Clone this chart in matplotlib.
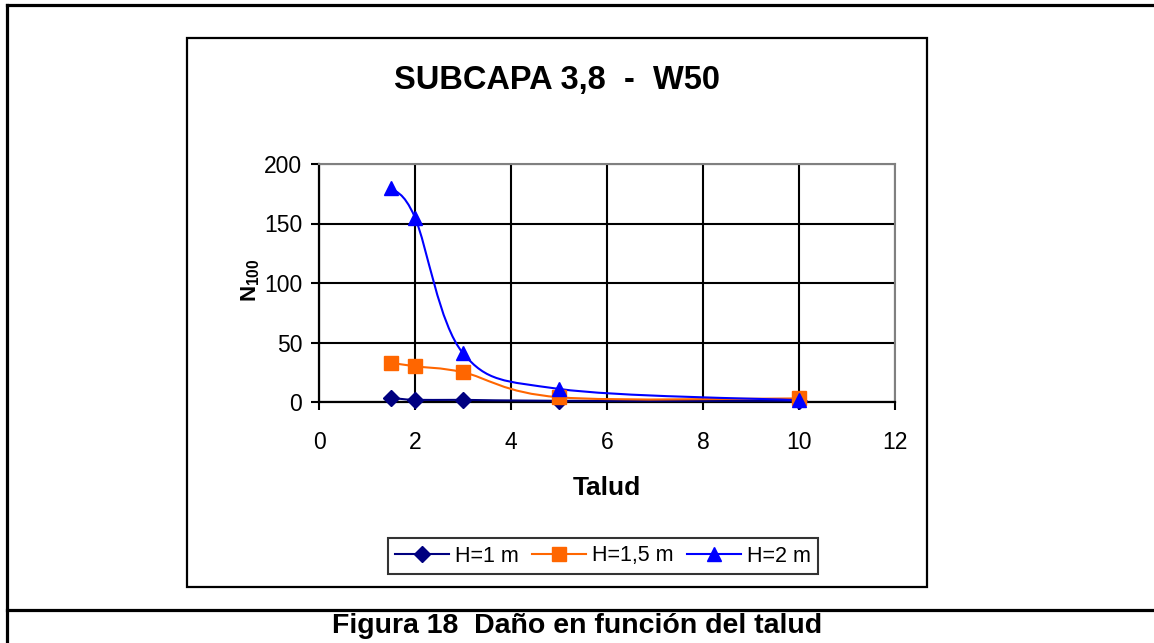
import numpy as np
import matplotlib
matplotlib.use("Agg")
import matplotlib.pyplot as plt
from matplotlib.path import Path
from matplotlib.patches import PathPatch, Rectangle
from matplotlib.lines import Line2D

plt.rcParams['font.family'] = ['Liberation Sans', 'DejaVu Sans']
plt.rcParams['mathtext.fontset'] = 'custom'
plt.rcParams['mathtext.rm'] = 'Liberation Sans'
plt.rcParams['mathtext.bf'] = 'Liberation Sans:bold'

# data
talud = [1.5, 2, 3, 5, 10]
h1 = [3.5, 1.8, 1.8, 1.0, 1.0]
h15 = [33, 30, 25, 4, 3]
h2 = [180, 155, 41, 11, 1.5]
labels = ["H=1 m", "H=1,5 m", "H=2 m"]
colors = ["#000080", "#FF6600", "#0000FF"]
markers = ["D", "s", "^"]
msizes = [8, 9.5, 10.5]

W, H = 1154, 643
fig = plt.figure(figsize=(W / 100, H / 100), dpi=100)


def fx(px):
    return px / W


def fy(py):
    return 1 - py / H


# page frame + chart frame
for xs, ys in [([7, W], [5, 5]), ([7, 7], [5, H]), ([7, W], [610, 610])]:
    fig.add_artist(Line2D([fx(v) for v in xs], [fy(v) for v in ys], color="black", lw=2.3,
                          transform=fig.transFigure))
fig.add_artist(Rectangle((fx(187), fy(587)), fx(927) - fx(187), fy(38) - fy(587),
                         fill=False, ec="black", lw=1.6, transform=fig.transFigure))

ax = fig.add_axes([fx(319), fy(402), fx(895) - fx(319), fy(164) - fy(402)])


def excel_smooth(x, y):
    # Excel-style smoothed line (Catmull-Rom as cubic Bezier)
    p = np.column_stack([x, y]).astype(float)
    n = len(p)
    verts = [p[0]]
    codes = [Path.MOVETO]
    for i in range(n - 1):
        p0 = p[i - 1] if i > 0 else p[i]
        p3 = p[i + 2] if i + 2 < n else p[i + 1]
        c1 = p[i] + (p[i + 1] - p0) / 6
        c2 = p[i + 1] - (p3 - p[i]) / 6
        verts += [c1, c2, p[i + 1]]
        codes += [Path.CURVE4] * 3
    return Path(verts, codes)


handles = []
for ys, lab, c, m, ms in zip([h1, h15, h2], labels, colors, markers, msizes):
    ax.add_patch(PathPatch(excel_smooth(talud, ys), fill=False, ec=c, lw=1.5, zorder=3))
    ax.plot(talud, ys, ls="none", marker=m, ms=ms, color=c, mec=c, zorder=4, clip_on=False)
    handles.append(Line2D([], [], color=c, lw=1.5, marker=m, ms=ms, mec=c, label=lab))

ax.set_xlim(0, 12)
ax.set_ylim(0, 200)
ax.set_xticks(range(0, 13, 2))
ax.set_yticks(range(0, 201, 50))
ax.grid(True, color="black", lw=1.5)
ax.set_axisbelow(True)
for s in ["top", "right"]:
    ax.spines[s].set_color("#808080")
    ax.spines[s].set_linewidth(1.5)
for s in ["left", "bottom"]:
    ax.spines[s].set_color("black")
    ax.spines[s].set_linewidth(1.6)
ax.tick_params(axis="both", direction="out", length=6, width=1.5, labelsize=16.5, color="black")
ax.tick_params(axis="y", pad=6)
ax.tick_params(axis="x", pad=15)

fig.text(fx(557), fy(80), "SUBCAPA 3,8  -  W50", ha="center", va="center",
         fontsize=23.5, fontweight="bold")
fig.text(fx(607), fy(488), "Talud", ha="center", va="center", fontsize=19, fontweight="bold")
fig.text(fx(251), fy(280), r"$\mathbf{N}_{\mathbf{100}}$", ha="center", va="center",
         rotation=90, fontsize=16)
fig.text(fx(577), fy(626), "Figura 18  Daño en función del talud", ha="center", va="center",
         fontsize=20.5, fontweight="bold")

leg = ax.legend(handles=handles, loc="center", ncol=3, bbox_to_anchor=(fx(603), fy(556)),
                bbox_transform=fig.transFigure, frameon=True, fancybox=False, fontsize=15.5,
                handlelength=2.5, handletextpad=0.3, columnspacing=0.6, borderpad=0.35,
                borderaxespad=0)
leg.get_frame().set_edgecolor("black")
leg.get_frame().set_linewidth(1.5)

fig.savefig("out.png", dpi=100)
